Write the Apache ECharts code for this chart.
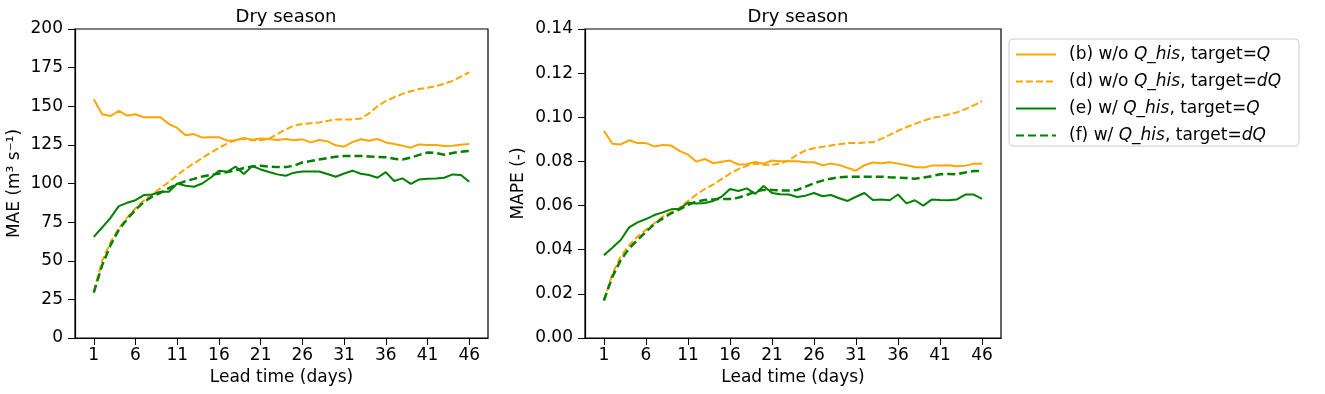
<!DOCTYPE html>
<html>
<head>
<meta charset="utf-8">
<script src="https://cdn.jsdelivr.net/npm/echarts@6/dist/echarts.min.js"></script>
<style>
  html, body { margin: 0; padding: 0; background: #fff; }
  #chart { width: 1325px; height: 394px; }
</style>
</head>
<body>
<div id="chart"></div>
<script>
// lead time (days)
const leadDays = Array.from({ length: 46 }, (_, i) => i + 1)
const xTicks = [1, 6, 11, 16, 21, 26, 31, 36, 41, 46]

// MAE panel (m3/s)
const maeB = [154.5, 144.8, 143.7, 147, 144, 144.8, 142.8, 142.8, 142.8, 138.5,
  136, 131.2, 132, 129.7, 130, 130, 127.7, 128, 129.4, 128.4,
  129.2, 128.8, 128.2, 128.8, 128, 128.6, 126.6, 128.2, 127.3, 124.7,
  123.8, 126.8, 128.6, 127.7, 128.8, 126.6, 125.6, 124.5, 123.2, 125.3,
  124.9, 124.9, 124.3, 124.5, 125.1, 125.6]
const maeD = [30, 50, 62, 71, 78, 84, 89, 93, 97, 101,
  105.5, 109.5, 113, 116.5, 120, 123, 126, 128, 129, 128,
  128, 129, 132, 135, 137.5, 138.5, 139, 139.5, 140.5, 141.5,
  141.5, 141.5, 142, 145.4, 150, 153.4, 155.8, 158, 159.7, 161.2,
  162, 163, 164.5, 166.4, 169.2, 172]
const maeE = [65.5, 71.5, 77.8, 85.4, 87.5, 89.2, 92.5, 92.9, 94.7, 94.7,
  100, 98.5, 97.9, 100, 103.7, 108.3, 107.6, 110.9, 106.1, 111.3,
  109.1, 107.4, 105.9, 105, 107, 107.8, 107.8, 107.8, 106.1, 104.4,
  106.5, 108.3, 106.3, 105.5, 103.7, 107.4, 101.6, 103.3, 99.8, 102.6,
  103.1, 103.3, 103.7, 105.9, 105.5, 101.1]
const maeF = [29.4, 47, 60, 70, 77, 83, 88, 91.5, 94, 97,
  99.5, 101.5, 103, 104.5, 105.5, 106.5, 107.5, 108.5, 110, 111,
  111.5, 111, 110.6, 110.6, 111.5, 113.7, 114.5, 115.5, 116.5, 117.3,
  117.8, 117.8, 117.8, 117.5, 117.2, 117, 116, 115.5, 116.8, 118.5,
  120.1, 119.8, 118.6, 119.8, 120.6, 121]

// MAPE panel (-)
const mapeB = [0.0939, 0.0880, 0.0877, 0.0896, 0.0883, 0.0883, 0.0868, 0.0875, 0.0872, 0.0848,
  0.0831, 0.0799, 0.0811, 0.0792, 0.0799, 0.0804, 0.0786, 0.0787, 0.0798, 0.0790,
  0.0804, 0.0801, 0.0801, 0.0801, 0.0796, 0.0796, 0.0783, 0.0790, 0.0784, 0.0771,
  0.0758, 0.0783, 0.0795, 0.0792, 0.0796, 0.0790, 0.0783, 0.0775, 0.0772, 0.0781,
  0.0781, 0.0783, 0.0778, 0.0781, 0.0789, 0.0789]
const mapeD = [0.017, 0.029, 0.037, 0.042, 0.046, 0.049, 0.052, 0.055, 0.057, 0.059,
  0.062, 0.065, 0.0675, 0.0695, 0.072, 0.0745, 0.0765, 0.078, 0.079, 0.0785,
  0.0785, 0.079, 0.0805, 0.083, 0.085, 0.086, 0.0866, 0.0872, 0.0878, 0.0883,
  0.0883, 0.0886, 0.0887, 0.0902, 0.092, 0.0939, 0.0955, 0.097, 0.0984, 0.0996,
  0.1004, 0.1013, 0.1022, 0.1037, 0.1054, 0.1073]
const mapeE = [0.0375, 0.0409, 0.0444, 0.0501, 0.0524, 0.0539, 0.0557, 0.0569, 0.0583, 0.0586,
  0.0613, 0.0609, 0.0612, 0.0621, 0.0640, 0.0675, 0.0666, 0.0678, 0.0653, 0.0689,
  0.0657, 0.0651, 0.0650, 0.0639, 0.0645, 0.0657, 0.0642, 0.0648, 0.0633, 0.0621,
  0.0640, 0.0657, 0.0625, 0.0627, 0.0624, 0.0650, 0.0610, 0.0624, 0.0600, 0.0627,
  0.0625, 0.0624, 0.0628, 0.0650, 0.0650, 0.0630]
const mapeF = [0.017, 0.0277, 0.0353, 0.0406, 0.0444, 0.0481, 0.0516, 0.0542, 0.0565, 0.0583,
  0.0603, 0.0618, 0.0625, 0.0628, 0.063, 0.063, 0.0636, 0.0648, 0.0663, 0.0671,
  0.0671, 0.0669, 0.0668, 0.0671, 0.0686, 0.0701, 0.0713, 0.0722, 0.0728, 0.0731,
  0.0731, 0.0731, 0.0731, 0.0731, 0.0728, 0.0727, 0.0725, 0.0722, 0.0727, 0.0733,
  0.0742, 0.0743, 0.0742, 0.075, 0.0757, 0.0757]

const seriesNames = ['(b) w/o Q_his, target=Q', '(d) w/o Q_his, target=dQ', '(e) w/ Q_his, target=Q', '(f) w/ Q_his, target=dQ']
const legendRich = {
  '(b) w/o Q_his, target=Q': '{n|(b) w/o }{i|Q_his}{n|, target=}{i|Q}',
  '(d) w/o Q_his, target=dQ': '{n|(d) w/o }{i|Q_his}{n|, target=}{i|dQ}',
  '(e) w/ Q_his, target=Q': '{n|(e) w/ }{i|Q_his}{n|, target=}{i|Q}',
  '(f) w/ Q_his, target=dQ': '{n|(f) w/ }{i|Q_his}{n|, target=}{i|dQ}'
}

const FONT = 'DejaVu Sans'
const ORANGE = '#ffa500'
const GREEN = '#008000'

const chart = echarts.init(document.getElementById('chart'))

function xAxisFor(idx) {
  return {
    type: 'value',
    gridIndex: idx,
    min: -1.25,
    max: 48.25,
    name: 'Lead time (days)',
    nameLocation: 'middle',
    nameGap: 31,
    nameTextStyle: { fontFamily: FONT, fontSize: 17, color: '#000' },
    axisLine: { onZero: false, lineStyle: { color: '#000', width: 1.2 } },
    axisTick: { show: true, length: 7, customValues: xTicks, lineStyle: { color: '#000' } },
    axisLabel: { customValues: xTicks, fontFamily: FONT, fontSize: 17, color: '#000', margin: 9 },
    splitLine: { show: false }
  }
}

function yAxisFor(idx, opt) {
  return Object.assign({
    type: 'value',
    gridIndex: idx,
    min: 0,
    nameLocation: 'middle',
    nameTextStyle: { fontFamily: FONT, fontSize: 17, color: '#000' },
    axisLine: { show: true, onZero: false, lineStyle: { color: '#000', width: 1.2 } },
    axisTick: { show: true, length: 7, lineStyle: { color: '#000' } },
    splitLine: { show: false }
  }, opt)
}

function line(name, data, idx, color, dashed, width) {
  return {
    name: name,
    type: 'line',
    xAxisIndex: idx,
    yAxisIndex: idx,
    symbol: 'none',
    showSymbol: false,
    data: leadDays.map((d, i) => [d, data[i]]),
    lineStyle: { color: color, width: width, type: dashed || 'solid' },
    itemStyle: { color: color },
    animation: false
  }
}

chart.setOption({
  animation: false,
  title: [
    { text: 'Dry season', left: 281, top: 3, textAlign: 'center', textStyle: { fontFamily: FONT, fontSize: 18, fontWeight: 'normal', color: '#000' } },
    { text: 'Dry season', left: 793, top: 3, textAlign: 'center', textStyle: { fontFamily: FONT, fontSize: 18, fontWeight: 'normal', color: '#000' } }
  ],
  grid: [
    { left: 75, top: 29, width: 413, height: 309, show: true, borderColor: '#000', borderWidth: 1.2 },
    { left: 585, top: 29, width: 416, height: 309, show: true, borderColor: '#000', borderWidth: 1.2 }
  ],
  legend: {
    data: seriesNames,
    orient: 'vertical',
    left: 1009,
    top: 39,
    width: 308,
    padding: [7, 18, 2, 6],
    itemWidth: 40,
    itemHeight: 14,
    itemGap: 10,
    borderColor: '#cccccc',
    borderWidth: 1,
    borderRadius: 4,
    itemStyle: { opacity: 0 },
    formatter: name => legendRich[name],
    textStyle: {
      fontFamily: FONT,
      fontSize: 17,
      color: '#000',
      padding: [0, 0, 0, 8],
      rich: {
        n: { fontFamily: FONT, fontSize: 17, color: '#000' },
        i: { fontFamily: FONT, fontSize: 17, color: '#000', fontStyle: 'italic' }
      }
    }
  },
  xAxis: [xAxisFor(0), xAxisFor(1)],
  yAxis: [
    yAxisFor(0, {
      max: 200, interval: 25,
      name: 'MAE (m³ s⁻¹)', nameGap: 52,
      axisLabel: { fontFamily: FONT, fontSize: 17, color: '#000', margin: 12 }
    }),
    yAxisFor(1, {
      max: 0.14, interval: 0.02,
      name: 'MAPE (-)', nameGap: 58,
      axisLabel: { fontFamily: FONT, fontSize: 17, color: '#000', margin: 12, formatter: v => v.toFixed(2) }
    })
  ],
  series: [
    line(seriesNames[0], maeB, 0, ORANGE, 'solid', 2),
    line(seriesNames[1], maeD, 0, ORANGE, [7, 3], 2),
    line(seriesNames[2], maeE, 0, GREEN, 'solid', 2),
    line(seriesNames[3], maeF, 0, GREEN, [8, 4], 2.5),
    line(seriesNames[0], mapeB, 1, ORANGE, 'solid', 2),
    line(seriesNames[1], mapeD, 1, ORANGE, [7, 3], 2),
    line(seriesNames[2], mapeE, 1, GREEN, 'solid', 2),
    line(seriesNames[3], mapeF, 1, GREEN, [8, 4], 2.5)
  ]
})
</script>
</body>
</html>
